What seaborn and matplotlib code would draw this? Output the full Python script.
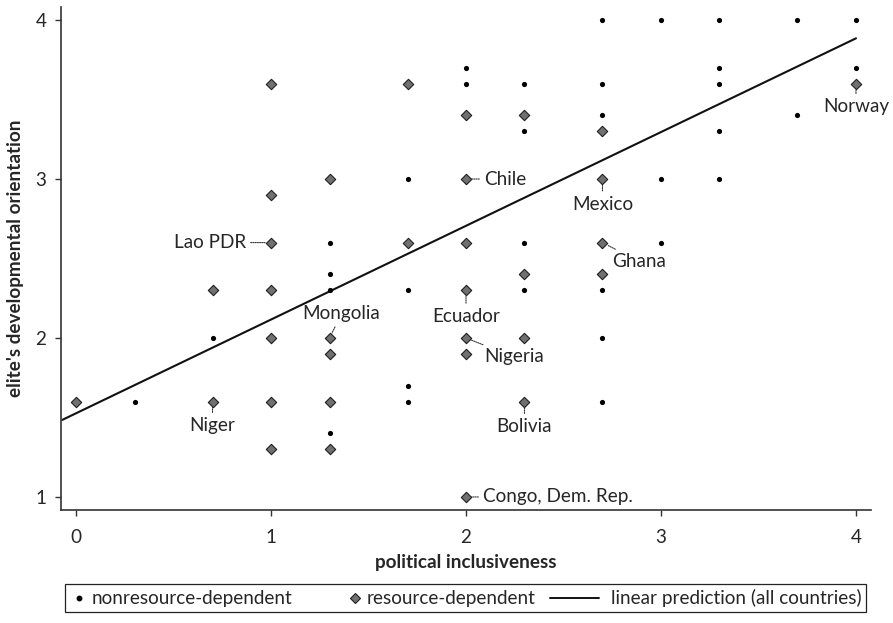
import matplotlib
matplotlib.use("Agg")
import matplotlib.pyplot as plt
from matplotlib.lines import Line2D
from matplotlib.legend_handler import HandlerLine2D
import seaborn as sns

# ---------------- DATA ----------------
# nonresource-dependent countries (small dots)
nonres_x = [0.3, 0.7, 1.3, 1.3, 1.3, 1.3, 1.7, 1.7, 1.7, 1.7, 2.0, 2.0,
            2.3, 2.3, 2.3, 2.3, 2.7, 2.7, 2.7, 2.7, 2.7, 2.7, 3.0, 3.0, 3.0,
            3.3, 3.3, 3.3, 3.3, 3.3, 3.7, 3.7, 4.0, 4.0]
nonres_y = [1.6, 2.0, 2.6, 2.4, 2.3, 1.4, 3.0, 2.3, 1.7, 1.6, 3.7, 3.6,
            3.6, 3.3, 2.6, 2.3, 4.0, 3.6, 3.4, 2.3, 2.0, 1.6, 4.0, 3.0, 2.6,
            4.0, 3.7, 3.6, 3.3, 3.0, 4.0, 3.4, 4.0, 3.7]

# resource-dependent countries (diamonds)
res_x = [0.0, 0.7, 0.7, 1.0, 1.0, 1.0, 1.0, 1.0, 1.0, 1.0,
         1.3, 1.3, 1.3, 1.3, 1.3, 1.7, 1.7,
         2.0, 2.0, 2.0, 2.0, 2.0, 2.0, 2.0,
         2.3, 2.3, 2.3, 2.3, 2.7, 2.7, 2.7, 2.7, 4.0]
res_y = [1.6, 2.3, 1.6, 3.6, 2.9, 2.6, 2.3, 2.0, 1.6, 1.3,
         3.0, 2.0, 1.9, 1.6, 1.3, 3.6, 2.6,
         3.4, 3.0, 2.6, 2.3, 2.0, 1.9, 1.0,
         3.4, 2.4, 2.0, 1.6, 3.3, 3.0, 2.6, 2.4, 3.6]

# linear prediction (all countries)
fit_x = [-0.07, 4.0]
fit_y = [1.485, 3.885]

# labelled countries: name, x, y
label_names = ["Lao PDR", "Chile", "Mexico", "Norway", "Ghana", "Mongolia",
               "Ecuador", "Nigeria", "Niger", "Bolivia", "Congo, Dem. Rep."]
label_x = [1.0, 2.0, 2.7, 4.0, 2.7, 1.3, 2.0, 2.0, 0.7, 2.3, 2.0]
label_y = [2.6, 3.0, 3.0, 3.6, 2.6, 2.0, 2.3, 2.0, 1.6, 1.6, 1.0]
# text offsets (pixels) and alignment
label_off = [(-25, 0), (18, 0), (0, -25), (0, -23), (10, -19), (12, 24),
             (0, -26), (18, -19), (0, -24), (0, -25), (17, 0)]
label_ha = ["right", "left", "center", "center", "left", "center",
            "center", "left", "center", "center", "left"]

FS = 13.6
TXT = "#262626"


class LongLine(HandlerLine2D):
    # line handle drawn longer than the (short) marker handle box
    def get_xdata(self, legend, xdescent, ydescent, width, height, fontsize):
        xd, xm = super().get_xdata(legend, xdescent, ydescent, width, height, fontsize)
        return [-xdescent - 28, width - xdescent - 6], xm


# ---------------- PLOT ----------------
sns.set_style("white")
plt.rcParams["font.family"] = ["Lato", "DejaVu Sans"]

fig = plt.figure(figsize=(8.93, 6.23), dpi=100)
ax = fig.add_axes([61 / 893, 1 - 510 / 623, 810 / 893, 503 / 623])

sns.scatterplot(x=nonres_x, y=nonres_y, ax=ax, marker="o", s=14,
                color="black", edgecolor="black", linewidth=0, zorder=3)
sns.scatterplot(x=res_x, y=res_y, ax=ax, marker="D", s=28,
                color="#707070", edgecolor="#1e1e1e", linewidth=0.8, zorder=3)
sns.lineplot(x=fit_x, y=fit_y, ax=ax, color="#111111", linewidth=1.5, zorder=2)

for name, lx, ly, off, ha in zip(label_names, label_x, label_y, label_off, label_ha):
    ax.annotate(name, xy=(lx, ly), xytext=off, textcoords="offset pixels",
                ha=ha, va="center", fontsize=FS, color=TXT,
                arrowprops=dict(arrowstyle="-", linestyle=(0, (1, 1)), lw=0.8,
                                color="#333333", shrinkA=1, shrinkB=4))

ax.set_xlim(-0.077, 4.077)
ax.set_ylim(0.918, 4.082)
ax.set_xticks([0, 1, 2, 3, 4])
ax.set_yticks([1, 2, 3, 4])
for s in ["top", "right"]:
    ax.spines[s].set_visible(False)
for s in ["left", "bottom"]:
    ax.spines[s].set_color("#333333")
    ax.spines[s].set_linewidth(1.2)
ax.tick_params(axis="both", direction="out", length=4.5, width=1, color="#333333",
               labelsize=FS, labelcolor=TXT, left=True, bottom=True)
ax.tick_params(axis="x", pad=9)
ax.tick_params(axis="y", pad=6)

ax.set_xlabel("political inclusiveness", fontsize=FS, fontweight="bold",
              color=TXT, labelpad=6)
ax.set_ylabel("elite's developmental orientation", fontsize=FS, fontweight="bold",
              color=TXT, labelpad=8)

dot_h = Line2D([], [], marker="o", linestyle="none", color="black", markersize=3.2)
dia_h = Line2D([], [], marker="D", linestyle="none", markerfacecolor="#707070",
               markeredgecolor="#1e1e1e", markeredgewidth=0.8, markersize=5.5)
fit_h = Line2D([], [], color="#111111", linewidth=1.4)
labels = ["nonresource-dependent", "resource-dependent",
          "linear prediction (all countries)"]
leg = fig.legend([dot_h, dia_h, fit_h], labels, loc="lower left",
                 bbox_to_anchor=(65 / 893, 11 / 623, 801 / 893, 29 / 623),
                 mode="expand", ncol=3, fancybox=False, frameon=True,
                 edgecolor="#222222", framealpha=1, fontsize=FS,
                 handlelength=1.0, handletextpad=0.15, borderpad=0.25,
                 borderaxespad=0, handler_map={fit_h: LongLine()})
leg.get_frame().set_linewidth(0.9)
for t in leg.get_texts():
    t.set_color(TXT)

fig.savefig("out.png", dpi=100)
